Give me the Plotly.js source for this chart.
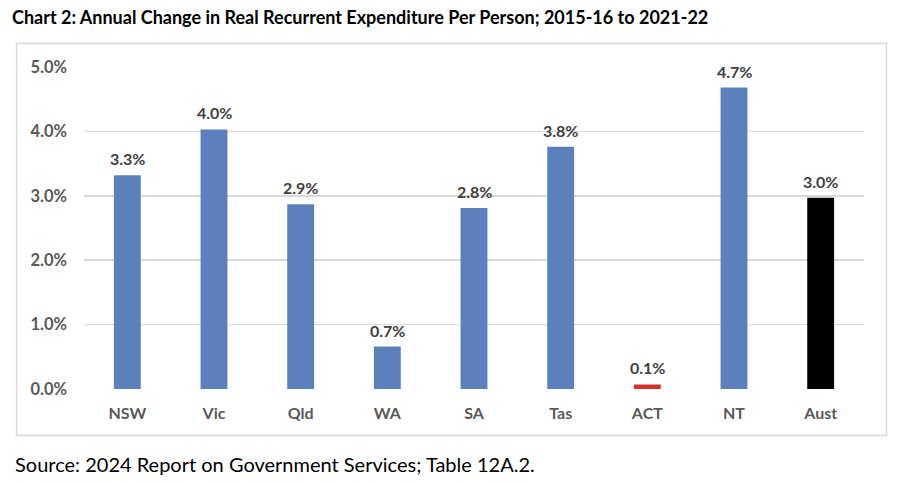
<!DOCTYPE html>
<html>
<head>
<meta charset="utf-8">
<script src="https://cdn.plot.ly/plotly-3.0.1.min.js"></script>
<style>html,body{margin:0;padding:0;background:#fff;}#chart{width:900px;height:482px;}</style>
</head>
<body>
<div id="chart"></div>
<script>
const categories = ["NSW", "Vic", "Qld", "WA", "SA", "Tas", "ACT", "NT", "Aust"];
const values = [3.32, 4.03, 2.87, 0.66, 2.81, 3.76, 0.07, 4.68, 2.97];
const barColors = ["#5B80BB", "#5B80BB", "#5B80BB", "#5B80BB", "#5B80BB", "#5B80BB", "#D0342C", "#5B80BB", "#000000"];
const yTickVals = [0, 1, 2, 3, 4, 5];
const yTickText = ["0.0%", "1.0%", "2.0%", "3.0%", "4.0%", "5.0%"];
const titleText = "Chart 2: Annual Change in Real Recurrent Expenditure Per Person; 2015-16 to 2021-22";
const sourceText = "Source: 2024 Report on Government Services; Table 12A.2.";

const FONT = "Lato, 'Open Sans', sans-serif";

const trace = {
  type: "bar",
  x: categories,
  y: values,
  marker: { color: barColors },
  hoverinfo: "skip"
};

const labelAnnotations = categories.map((c, i) => ({
  x: c, y: values[i], xref: "x", yref: "y",
  text: values[i].toFixed(1) + "%",
  showarrow: false,
  yanchor: "bottom",
  yshift: 5,
  font: { family: FONT, size: 16, color: "#404040", weight: "bold" }
}));

const layout = {
  width: 900,
  height: 482,
  margin: { l: 83.5, r: 36, t: 67, b: 92.5 },
  paper_bgcolor: "#ffffff",
  plot_bgcolor: "#ffffff",
  showlegend: false,
  bargap: 0.69,
  title: {
    text: "<b>" + titleText + "</b>",
    x: 12 / 900, xref: "container", xanchor: "left",
    y: 1 - 18 / 482, yref: "container", yanchor: "middle",
    font: { family: FONT, size: 18, color: "#000000" }
  },
  xaxis: {
    type: "category",
    showgrid: false,
    zeroline: false,
    showline: false,
    ticks: "",
    tickfont: { family: FONT, size: 16, color: "#595959", weight: "bold" },
    ticklabelstandoff: 13
  },
  yaxis: {
    range: [0, 5],
    tickvals: yTickVals,
    ticktext: yTickText,
    showgrid: true,
    gridcolor: "#D9D9D9",
    gridwidth: 1.5,
    zeroline: false,
    showline: false,
    ticks: "",
    ticklabelstandoff: 16,
    tickfont: { family: FONT, size: 16.5, color: "#595959", weight: "bold" }
  },
  shapes: [{
    type: "rect", xref: "paper", yref: "paper",
    x0: (16 - 83.5) / 780.5, x1: (886.5 - 83.5) / 780.5,
    y0: (389.5 - 436) / 322.5, y1: (389.5 - 43.5) / 322.5,
    line: { color: "#D9D9D9", width: 1.5 },
    fillcolor: "rgba(0,0,0,0)",
    layer: "below"
  }],
  annotations: labelAnnotations.concat([{
    text: sourceText,
    xref: "paper", yref: "paper",
    x: (12 - 83.5) / 780.5, xanchor: "left",
    y: (389.5 - 465) / 322.5, yanchor: "middle",
    showarrow: false,
    font: { family: FONT, size: 20, color: "#000000" }
  }])
};

Plotly.newPlot("chart", [trace], layout, { displayModeBar: false, staticPlot: true });
</script>
</body>
</html>
